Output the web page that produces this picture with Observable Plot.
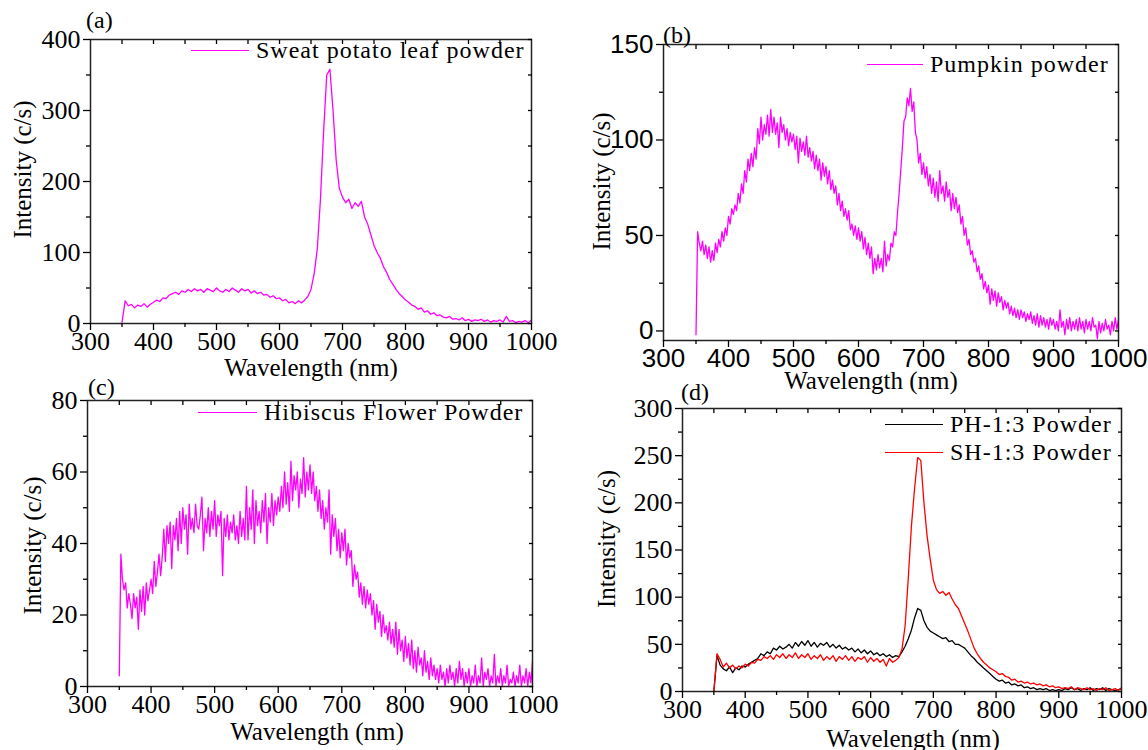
<!DOCTYPE html>
<html><head><meta charset="utf-8">
<script src="https://cdn.jsdelivr.net/npm/d3@7"></script>
<script src="https://cdn.jsdelivr.net/npm/@observablehq/plot@0.6"></script>
<style>
html,body{margin:0;padding:0;background:#fff;}
#chart{position:relative;width:1148px;height:750px;overflow:hidden;font-family:"Liberation Serif",serif;color:#000;}
#chart svg, #chart svg g, #chart svg text{font-family:"Liberation Serif",serif !important;}
#chart .sansTicks g[aria-label$="tick label"], #chart .sansTicks g[aria-label$="tick label"] text{font-family:"Liberation Sans",sans-serif !important;}
.panel{position:absolute;}
.lbl{position:absolute;white-space:nowrap;line-height:1;transform:translateY(-50%);font-size:24px;}
.leg{position:absolute;display:flex;align-items:center;white-space:nowrap;transform:translateY(-50%);font-size:24px;line-height:1;letter-spacing:1px;}
.leg .sw{display:inline-block;height:0;border-top:1.6px solid;margin-right:7px;}
</style></head><body><div id="chart"></div>
<script>
// Sampling grids (nm)
const wavelength5 = d3.range(350, 1001, 5);
const wavelength2p5 = d3.range(350, 1000.1, 2.5);

// (a) Sweet potato leaf powder (5 nm grid)
const sweetPotato = [
  2, 32, 25, 27, 22, 26, 24, 28, 23, 27,
  30, 33, 31, 36, 35, 40, 42, 44, 41, 46,
  44, 48, 45, 49, 46, 48, 44, 49, 47, 45,
  50, 46, 44, 48, 45, 50, 47, 44, 49, 46,
  48, 43, 46, 42, 44, 40, 41, 37, 39, 35,
  36, 32, 34, 29, 31, 28, 32, 29, 33, 38,
  48, 70, 105, 175, 270, 350, 358, 300, 230, 190,
  178, 170, 175, 162, 170, 165, 172, 150, 140, 125,
  110, 100, 92, 80, 72, 62, 55, 48, 42, 38,
  33, 30, 26, 24, 20, 22, 16, 18, 13, 15,
  11, 12, 9, 8, 10, 6, 7, 5, 8, 4,
  6, 3, 5, 4, 6, 3, 5, 2, 4, 3,
  5, 2, 10, 3, 4, 1, 3, 2, 4, 1,
  5
];

// (b) Pumpkin powder (2.5 nm grid)
const pumpkin = [
  -2, 52, 46, 42, 47, 40, 45, 38, 44, 36, 42, 37, 46, 41, 48, 44, 52, 47, 54, 50,
  60, 56, 64, 61, 66, 63, 72, 67, 77, 72, 84, 78, 90, 84, 93, 86, 96, 90, 106, 98,
  112, 100, 108, 103, 113, 102, 116, 104, 112, 103, 109, 96, 112, 104, 108, 100, 106, 97, 104, 99,
  103, 95, 102, 88, 101, 94, 99, 92, 102, 91, 96, 89, 94, 85, 92, 84, 90, 79, 88, 81,
  86, 77, 84, 74, 79, 72, 76, 66, 72, 63, 68, 60, 64, 58, 63, 53, 56, 50, 55, 48,
  54, 47, 52, 43, 49, 40, 46, 38, 44, 30, 38, 32, 40, 33, 38, 31, 47, 34, 40, 37,
  46, 44, 52, 50, 62, 72, 84, 96, 110, 112, 122, 118, 127, 115, 120, 104, 100, 88, 93, 82,
  88, 80, 86, 76, 82, 72, 80, 70, 78, 68, 84, 72, 76, 68, 78, 70, 74, 63, 72, 64,
  70, 62, 66, 56, 60, 50, 54, 45, 48, 40, 42, 36, 38, 31, 34, 27, 30, 22, 26, 20,
  24, 14, 22, 16, 21, 13, 20, 15, 18, 11, 16, 12, 15, 9, 13, 8, 12, 7, 11, 6,
  11, 7, 10, 5, 9, 6, 10, 4, 8, 3, 9, 2, 8, 3, 7, 2, 6, 1, 7, 3,
  6, 1, 5, 0, 11, 2, 5, -2, 6, 1, 7, 0, 5, 1, 6, 0, 7, 1, 5, -1,
  6, 1, 5, 0, 7, 2, 3, -4, 5, -1, 4, 0, 6, 1, 3, -2, 5, 0, 7, 1,
  6
];

// (c) Hibiscus Flower Powder (2.5 nm grid)
const hibiscus = [
  3, 37, 30, 27, 29, 22, 26, 23, 19, 26, 22, 25, 16, 27, 21, 28, 20, 29, 24, 27,
  30, 26, 35, 28, 32, 37, 31, 36, 44, 35, 45, 40, 46, 33, 45, 41, 47, 38, 49, 40,
  50, 44, 48, 37, 51, 44, 47, 43, 51, 45, 44, 48, 53, 38, 47, 43, 50, 42, 49, 44,
  52, 42, 48, 45, 49, 31, 47, 42, 48, 41, 46, 43, 48, 41, 45, 40, 49, 42, 47, 41,
  56, 41, 50, 44, 55, 40, 52, 45, 49, 43, 52, 46, 54, 40, 50, 46, 54, 45, 52, 48,
  53, 49, 56, 50, 60, 51, 57, 49, 63, 52, 59, 55, 60, 50, 58, 54, 64, 53, 60, 55,
  62, 54, 60, 52, 56, 49, 55, 47, 52, 44, 50, 46, 55, 37, 48, 42, 47, 38, 44, 36,
  43, 38, 44, 34, 40, 36, 38, 28, 34, 30, 32, 25, 29, 23, 28, 22, 27, 23, 26, 20,
  24, 16, 23, 18, 21, 14, 20, 15, 17, 13, 18, 12, 16, 11, 18, 9, 16, 10, 13, 7,
  14, 8, 12, 6, 13, 5, 10, 4, 11, 6, 8, 3, 10, 4, 7, 2, 8, 3, 6, 2,
  5, 1, 6, 2, 4, 0, 5, 1, 6, 2, 4, 0, 5, 1, 7, 2, 5, 0, 4, 1,
  5, 0, 3, 1, 6, 0, 3, 1, 8, 0, 4, 2, 5, 0, 3, 1, 9, 0, 3, 1,
  5, 0, 3, 1, 6, 0, 2, 1, 4, 0, 3, 1, 6, 0, 3, 1, 5, 0, 4, 1,
  7
];

// (d) PH-1:3 Powder (5 nm grid)
const ph13 = [
  0, 38, 28, 24, 22, 26, 20, 25, 23, 27,
  26, 29, 31, 33, 35, 40, 38, 42, 40, 46,
  44, 48, 45, 47, 50, 46, 52, 48, 53, 49,
  54, 48, 52, 47, 51, 49, 52, 47, 50, 46,
  49, 45, 47, 44, 46, 42, 45, 41, 44, 40,
  43, 39, 41, 38, 40, 37, 39, 36, 38, 37,
  42, 48, 56, 65, 78, 88, 86, 75, 68, 64,
  62, 60, 58, 56, 57, 53, 54, 50, 50, 48,
  46, 42, 38, 35, 31, 28, 25, 22, 19, 16,
  13, 11, 12, 9, 10, 7, 8, 6, 7, 4,
  5, 3, 4, 2, 3, 2, 3, 1, 2, 1,
  2, 1, 3, 2, 4, 2, 3, 1, 3, 2,
  4, 1, 3, 2, 4, 1, 3, 2, 1, 2,
  3
];

// (d) SH-1:3 Powder (5 nm grid)
const sh13 = [
  0, 40, 34, 26, 30, 25, 28, 24, 27, 25,
  29, 27, 31, 30, 34, 33, 37, 35, 38, 34,
  39, 36, 40, 35, 39, 36, 41, 35, 39, 36,
  40, 34, 38, 35, 39, 33, 37, 34, 38, 32,
  37, 34, 38, 33, 37, 32, 36, 34, 37, 31,
  36, 32, 35, 31, 34, 27, 35, 31, 33, 36,
  45, 70, 120, 175, 215, 248, 245, 200, 165, 140,
  118, 108, 104, 106, 102, 105, 98, 92, 88, 80,
  72, 64, 55, 46, 40, 35, 31, 28, 25, 23,
  21, 18, 19, 16, 15, 12, 13, 10, 11, 9,
  10, 8, 9, 7, 8, 6, 7, 5, 6, 4,
  5, 3, 4, 3, 5, 2, 4, 3, 2, 4,
  2, 3, 1, 3, 2, 4, 1, 2, 3, 1,
  4
];

// Axis tick values
const xMajor = [300, 400, 500, 600, 700, 800, 900, 1000];
const xMinor = [350, 450, 550, 650, 750, 850, 950];
const xAll = [350, 400, 450, 500, 550, 600, 650, 700, 750, 800, 850, 900, 950];

const MAGENTA = "#ff00ff";

const rows = (grid, vals) => grid.map((w, i) => ({w, v: vals[i]}));

const chart = document.getElementById("chart");

function panel(cfg) {
  const yAll = [...cfg.yMajor, ...cfg.yMinor];
  const marks = [
    ...cfg.series.map(s => Plot.line(rows(s.grid, s.values), {x: "w", y: "v", stroke: s.color, strokeWidth: 1.3})),
    Plot.frame({stroke: "#222", strokeWidth: 1.5}),
    Plot.axisX({ticks: xMajor, tickSize: 7, tickPadding: 1, tickFormat: d3.format("d"), label: null,
      fontSize: cfg.tickSize, strokeWidth: 1.3}),
    Plot.axisX({ticks: xMinor, tickSize: 4, tickFormat: () => "", label: null, strokeWidth: 1.3}),
    Plot.axisX({anchor: "top", ticks: xAll, tickSize: -4, tickFormat: () => "", label: null, strokeWidth: 1.3}),
    Plot.axisY({ticks: cfg.yMajor, tickSize: 7, tickPadding: 3, tickFormat: d3.format("d"), label: null,
      fontSize: cfg.tickSize, strokeWidth: 1.3}),
    Plot.axisY({ticks: cfg.yMinor, tickSize: 4, tickFormat: () => "", label: null, strokeWidth: 1.3}),
    Plot.axisY({anchor: "right", ticks: yAll, tickSize: -4, tickFormat: () => "", label: null, strokeWidth: 1.3}),
    Plot.text(["Wavelength (nm)"], {text: d => d, frameAnchor: "bottom", textAnchor: "middle",
      dx: cfg.xTitle[0], dy: cfg.xTitle[1], lineAnchor: "middle", fontSize: 25}),
    Plot.text(["Intensity (c/s)"], {text: d => d, frameAnchor: "left", textAnchor: "middle",
      dx: cfg.yTitle[0], dy: cfg.yTitle[1], rotate: -90, lineAnchor: "middle", fontSize: 25})
  ];
  const svg = Plot.plot({
    width: cfg.width, height: cfg.height,
    marginLeft: cfg.m[0], marginRight: cfg.m[1], marginTop: cfg.m[2], marginBottom: cfg.m[3],
    x: {domain: [300, 1000]},
    y: {domain: cfg.yDomain},
    style: {background: "transparent", fontSize: "24px", color: "#000", overflow: "visible"},
    marks
  });
  const holder = document.createElement("div");
  holder.className = "panel" + (cfg.sans ? " sansTicks" : "");
  holder.style.left = cfg.left + "px";
  holder.style.top = cfg.top + "px";
  holder.appendChild(svg);
  chart.appendChild(holder);
}

panel({left: 0, top: 0, width: 560, height: 380, m: [90, 29, 39, 57],
  yDomain: [0, 400], yMajor: [0, 100, 200, 300, 400], yMinor: [50, 150, 250, 350],
  tickSize: 26, xTitle: [0, 44], yTitle: [-68, -12],
  series: [{grid: wavelength5, values: sweetPotato, color: MAGENTA}]});

panel({left: 574, top: 0, width: 574, height: 400, m: [89, 30, 44, 60], sans: true,
  yDomain: [-5, 150], yMajor: [0, 50, 100, 150], yMinor: [25, 75, 125],
  tickSize: 26, xTitle: [-20, 40], yTitle: [-62, -11],
  series: [{grid: wavelength2p5, values: pumpkin, color: MAGENTA}]});

panel({left: 0, top: 375, width: 560, height: 375, m: [87, 28, 25, 64],
  yDomain: [0, 80], yMajor: [0, 20, 40, 60, 80], yMinor: [10, 30, 50, 70],
  tickSize: 26, xTitle: [7, 45], yTitle: [-55, 2],
  series: [{grid: wavelength2p5, values: hibiscus, color: MAGENTA}]});

panel({left: 574, top: 375, width: 574, height: 375, m: [108, 27, 33, 59],
  yDomain: [0, 300], yMajor: [0, 50, 100, 150, 200, 250, 300], yMinor: [25, 75, 125, 175, 225, 275],
  tickSize: 26, xTitle: [11, 47], yTitle: [-76, -11],
  series: [{grid: wavelength5, values: ph13, color: "#000"}, {grid: wavelength5, values: sh13, color: "#ff0000"}]});

// Panel letters
const letters = [["(a)", 86, 20], ["(b)", 663, 35], ["(c)", 88, 387], ["(d)", 681, 392]];
for (const [t, x, y] of letters) {
  const el = document.createElement("div");
  el.className = "lbl";
  el.textContent = t;
  el.style.left = x + "px";
  el.style.top = y + "px";
  chart.appendChild(el);
}

// Legends
const legends = [
  {x: 191, y: 50, w: 58, color: MAGENTA, text: "Sweat potato leaf powder"},
  {x: 867, y: 64, w: 56, color: MAGENTA, text: "Pumpkin powder"},
  {x: 198, y: 412, w: 59, color: MAGENTA, text: "Hibiscus Flower Powder"},
  {x: 885, y: 424, w: 58, color: "#000", text: "PH-1:3 Powder"},
  {x: 885, y: 452, w: 58, color: "#ff0000", text: "SH-1:3 Powder"}
];
for (const g of legends) {
  const el = document.createElement("div");
  el.className = "leg";
  el.style.left = g.x + "px";
  el.style.top = g.y + "px";
  const sw = document.createElement("span");
  sw.className = "sw";
  sw.style.width = g.w + "px";
  sw.style.borderTopColor = g.color;
  const tx = document.createElement("span");
  tx.textContent = g.text;
  el.appendChild(sw);
  el.appendChild(tx);
  chart.appendChild(el);
}
</script></body></html>
